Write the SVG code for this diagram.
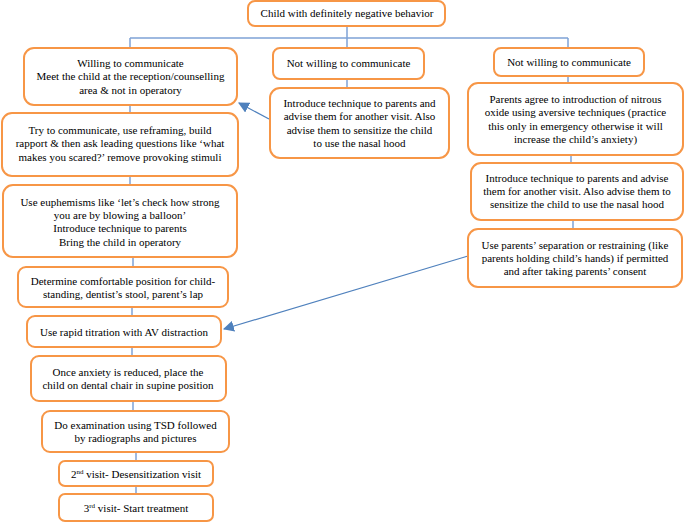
<svg xmlns="http://www.w3.org/2000/svg" width="685" height="522" viewBox="0 0 685 522">
<style>
.box{fill:#fff;stroke:#F79646;stroke-width:2}
.t{font-family:"Liberation Serif","Times New Roman",serif;font-size:11px;fill:#000;text-anchor:middle}
.c{stroke:#7FA3D6;stroke-width:1.5;fill:none}
.a{stroke:#4F81BD;stroke-width:1.2;fill:none}
.sup{font-size:7px}
</style>
<defs>
<marker id="ah" viewBox="0 0 10 10" refX="9" refY="5" markerWidth="11" markerHeight="11" markerUnits="userSpaceOnUse" orient="auto">
<path d="M0,0 L10,5 L0,10 z" fill="#4F81BD"/>
</marker>
</defs>
<g id="connectors">
<path class="c" d="M347,27 V38 M130,38 H568 M347,38 V48 M347,79 V88 M568,38 V48 M568,76 V83 M571,155 V163 M573,220 V229"/>
<path class="c" d="M130,38 V48 M130,105 V113 M130,176 V185 M133,257 V267 M132,307 V316 M132,347 V356 M133,401 V411 M136,452 V461 M136,486 V494"/>
<line class="a" x1="269" y1="119" x2="239" y2="103" marker-end="url(#ah)"/>
<line class="a" x1="468" y1="256" x2="224" y2="329" marker-end="url(#ah)"/>
</g>
<g id="n_top">
<rect class="box" x="248" y="1" width="197" height="25" rx="7"/>
<text class="t" x="347" y="17">Child with definitely negative behavior</text>
</g>
<g id="n_willing">
<rect class="box" x="24" y="48" width="213" height="57" rx="10"/>
<text class="t" x="130.5" y="67">Willing to communicate</text>
<text class="t" x="130.5" y="80.3">Meet the child at the reception/counselling</text>
<text class="t" x="130.5" y="93.6">area &amp; not in operatory</text>
</g>
<g id="n_try">
<rect class="box" x="2" y="113" width="236" height="63" rx="10"/>
<text class="t" x="120" y="134">Try to communicate, use reframing, build</text>
<text class="t" x="120" y="147.3">rapport &amp; then ask leading questions like ‘what</text>
<text class="t" x="120" y="160.6">makes you scared?’ remove provoking stimuli</text>
</g>
<g id="n_euph">
<rect class="box" x="3" y="185" width="234" height="72" rx="10"/>
<text class="t" x="120" y="205.8">Use euphemisms like ‘let’s check how strong</text>
<text class="t" x="120" y="219.1">you are by blowing a balloon’</text>
<text class="t" x="120" y="232.4">Introduce technique to parents</text>
<text class="t" x="120" y="245.7">Bring the child in operatory</text>
</g>
<g id="n_pos">
<rect class="box" x="18" y="267" width="210" height="40" rx="8"/>
<text class="t" x="123" y="284.5">Determine comfortable position for child-</text>
<text class="t" x="123" y="297.8">standing, dentist’s stool, parent’s lap</text>
</g>
<g id="n_rapid">
<rect class="box" x="27" y="316" width="194" height="31" rx="8"/>
<text class="t" x="124" y="335.5">Use rapid titration with AV distraction</text>
</g>
<g id="n_once">
<rect class="box" x="31" y="356" width="195" height="45" rx="8"/>
<text class="t" x="128" y="375.5">Once anxiety is reduced, place the</text>
<text class="t" x="128" y="388.8">child on dental chair in supine position</text>
</g>
<g id="n_exam">
<rect class="box" x="42" y="411" width="187" height="41" rx="8"/>
<text class="t" x="135.5" y="429">Do examination using TSD followed</text>
<text class="t" x="135.5" y="442.3">by radiographs and pictures</text>
</g>
<g id="n_v2">
<rect class="box" x="59" y="461" width="154" height="25" rx="6"/>
<text class="t" x="136" y="477.5">2<tspan class="sup" dy="-4">nd</tspan><tspan dy="4"> visit- Desensitization visit</tspan></text>
</g>
<g id="n_v3">
<rect class="box" x="59" y="494" width="154" height="27" rx="6"/>
<text class="t" x="136" y="511.5">3<tspan class="sup" dy="-4">rd</tspan><tspan dy="4"> visit- Start treatment</tspan></text>
</g>
<g id="n_notwill_mid">
<rect class="box" x="273" y="48" width="151" height="31" rx="7"/>
<text class="t" x="348.5" y="67">Not willing to communicate</text>
</g>
<g id="n_intro_mid">
<rect class="box" x="270" y="88" width="179" height="70" rx="10"/>
<text class="t" x="359.5" y="107">Introduce technique to parents and</text>
<text class="t" x="359.5" y="120.3">advise them for another visit. Also</text>
<text class="t" x="359.5" y="133.6">advise them to sensitize the child</text>
<text class="t" x="359.5" y="146.9">to use the nasal hood</text>
</g>
<g id="n_notwill_right">
<rect class="box" x="494" y="48" width="150" height="28" rx="7"/>
<text class="t" x="569" y="66">Not willing to communicate</text>
</g>
<g id="n_parents">
<rect class="box" x="468" y="83" width="215" height="72" rx="10"/>
<text class="t" x="575.5" y="103">Parents agree to introduction of nitrous</text>
<text class="t" x="575.5" y="116.3">oxide using aversive techniques (practice</text>
<text class="t" x="575.5" y="129.6">this only in emergency otherwise it will</text>
<text class="t" x="575.5" y="142.9">increase the child’s anxiety)</text>
</g>
<g id="n_intro_right">
<rect class="box" x="471" y="163" width="212" height="57" rx="10"/>
<text class="t" x="577" y="181.5">Introduce technique to parents and advise</text>
<text class="t" x="577" y="194.8">them for another visit. Also advise them to</text>
<text class="t" x="577" y="208.1">sensitize the child to use the nasal hood</text>
</g>
<g id="n_sep">
<rect class="box" x="468" y="229" width="214" height="58" rx="10"/>
<text class="t" x="575" y="248.5">Use parents’ separation or restraining (like</text>
<text class="t" x="575" y="261.8">parents holding child’s hands) if permitted</text>
<text class="t" x="575" y="275.1">and after taking parents’ consent</text>
</g>
</svg>
